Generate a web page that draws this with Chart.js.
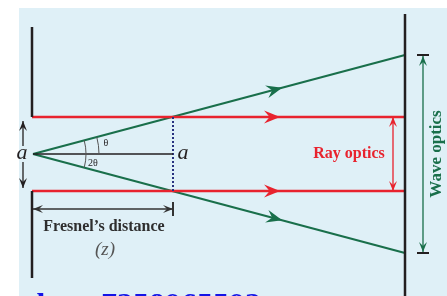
<!DOCTYPE html>
<html lang="en">
<head>
<meta charset="UTF-8">
<title>Fresnel's distance</title>
<script src="https://cdn.jsdelivr.net/npm/chart.js"></script>
<style>
  html, body { margin: 0; padding: 0; background: #fff; overflow: hidden; }
  #wrap { width: 447px; height: 296px; }
</style>
</head>
<body>
<div id="wrap"><canvas id="diagram" width="447" height="296"></canvas></div>
<script>
// diagram units: the slit centre (source) is at (0,0), y goes up
const wallUpper = [{x: -1, y: 127}, {x: -1, y: 37}];
const wallLower = [{x: -1, y: -37}, {x: -1, y: -124}];
const screenLine = [{x: 372, y: 140}, {x: 372, y: -142}];
const rayUpper = [{x: -1, y: 37}, {x: 372, y: 37}];
const rayLower = [{x: -1, y: -37}, {x: 372, y: -37}];
const waveUpper = [{x: 0, y: 0}, {x: 372, y: 99}];
const waveLower = [{x: 0, y: 0}, {x: 372, y: -99}];
const axisLine = [{x: 0, y: 0}, {x: 140, y: 0}];
const fresnelMark = [{x: 140, y: 37}, {x: 140, y: -37}];
const fresnelArrow = [{x: 0, y: -55}, {x: 140, y: -55}];
const fresnelTick = [{x: 140, y: -48}, {x: 140, y: -62}];
const slitArrowUp = [{x: -10, y: 8}, {x: -10, y: 33}];
const slitArrowDown = [{x: -10, y: -8}, {x: -10, y: -34}];
const rayArrow = [{x: 360, y: 37}, {x: 360, y: -37}];
const waveArrow = [{x: 390, y: 98}, {x: 390, y: -98}];
const capTop = [{x: 384, y: 99}, {x: 396, y: 99}];
const capBottom = [{x: 384, y: -99}, {x: 396, y: -99}];

const RED = '#e8232e', GREEN = '#196f4b', INK = '#231f20', NAVY = '#27317f';

function seg(data, color, width, extra) {
  return Object.assign({
    data: data, showLine: true, borderColor: color, borderWidth: width,
    pointRadius: 0, fill: false, borderCapStyle: 'butt'
  }, extra || {});
}

const labels = [
  {text: 'a', x: -11, y: 1, font: 'italic 22px "Liberation Serif"', color: INK},
  {text: 'a', x: 150, y: 1, font: 'italic 22px "Liberation Serif"', color: INK},
  {text: 'θ', x: 73, y: 11, font: '10px "Liberation Serif"', color: INK},
  {text: '2θ', x: 60, y: -9, font: '10px "Liberation Serif"', color: INK},
  {text: 'Ray optics', x: 316, y: 0, font: 'bold 16px "Liberation Serif"', color: RED},
  {text: 'Wave optics', x: 404, y: 0, font: 'bold 17px "Liberation Serif"', color: GREEN, rot: -Math.PI / 2},
  {text: 'Fresnel\u2019s distance', x: 71, y: -73, font: 'bold 16px "Liberation Serif"', color: '#2e2e2e'},
  {text: '(z)', x: 72, y: -96, font: 'italic 19px "Liberation Serif"', color: '#555'},
  {text: 'l', x: 8, y: -153, font: 'bold 32px "Liberation Serif"', color: '#1414e6'},
  {text: '7358965593', x: 148, y: -153, font: 'bold 32px "Liberation Serif"', color: '#1414e6'}
];

function head(ctx, tx, ty, dx, dy, len, wid, notch) {
  const nx = -dy, ny = dx;
  ctx.beginPath();
  ctx.moveTo(tx, ty);
  ctx.lineTo(tx - dx * len + nx * wid, ty - dy * len + ny * wid);
  ctx.lineTo(tx - dx * len * notch, ty - dy * len * notch);
  ctx.lineTo(tx - dx * len - nx * wid, ty - dy * len - ny * wid);
  ctx.closePath();
  ctx.fill();
}

const diagramPlugin = {
  id: 'diagram',
  beforeDraw(chart) {
    const {ctx, scales: {x, y}} = chart;
    ctx.save();
    ctx.fillStyle = '#fff';
    ctx.fillRect(0, 0, chart.width, chart.height);
    ctx.fillStyle = '#dff0f7';
    ctx.fillRect(x.getPixelForValue(-14), y.getPixelForValue(146), chart.width, chart.height);
    ctx.restore();
  },
  afterDatasetsDraw(chart) {
    const {ctx, scales: {x, y}} = chart;
    ctx.save();
    chart.data.datasets.forEach(ds => {
      if (!ds.arrow) return;
      const a = ds.data[0], b = ds.data[ds.data.length - 1];
      const ax = x.getPixelForValue(a.x), ay = y.getPixelForValue(a.y);
      const bx = x.getPixelForValue(b.x), by = y.getPixelForValue(b.y);
      const L = Math.hypot(bx - ax, by - ay);
      const dx = (bx - ax) / L, dy = (by - ay) / L;
      const o = ds.arrow;
      ctx.fillStyle = ds.borderColor;
      if (o.at !== undefined) {
        head(ctx, ax + dx * L * o.at, ay + dy * L * o.at, dx, dy, o.len, o.wid, o.notch);
      }
      if (o.end) head(ctx, bx, by, dx, dy, o.len, o.wid, o.notch);
      if (o.start) head(ctx, ax, ay, -dx, -dy, o.len, o.wid, o.notch);
    });

    // angle arcs at the source
    const cx = x.getPixelForValue(0), cy = y.getPixelForValue(0);
    const ang = Math.atan2(y.getPixelForValue(99) - cy, x.getPixelForValue(372) - cx);
    ctx.strokeStyle = '#555';
    ctx.lineWidth = 1;
    ctx.beginPath();
    ctx.arc(cx, cy, 66, ang, 0);
    ctx.stroke();
    ctx.beginPath();
    ctx.arc(cx, cy, 53, ang, -ang);
    ctx.stroke();

    labels.forEach(l => {
      ctx.save();
      ctx.translate(x.getPixelForValue(l.x), y.getPixelForValue(l.y));
      if (l.rot) ctx.rotate(l.rot);
      ctx.font = l.font;
      ctx.fillStyle = l.color;
      ctx.textAlign = 'center';
      ctx.textBaseline = 'middle';
      ctx.fillText(l.text, 0, 0);
      ctx.restore();
    });
    ctx.restore();
  }
};

new Chart(document.getElementById('diagram'), {
  type: 'scatter',
  data: {
    datasets: [
      seg(wallUpper, INK, 2.5),
      seg(wallLower, INK, 2.5),
      seg(screenLine, INK, 2.5),
      seg(axisLine, INK, 1.5),
      seg(fresnelMark, NAVY, 2, {borderDash: [2, 2]}),
      seg(rayUpper, RED, 2.5, {arrow: {at: 0.665, len: 16, wid: 6.5, notch: 0.65}}),
      seg(rayLower, RED, 2.5, {arrow: {at: 0.665, len: 16, wid: 6.5, notch: 0.65}}),
      seg(waveUpper, GREEN, 2.2, {arrow: {at: 0.67, len: 16, wid: 6.5, notch: 0.65}}),
      seg(waveLower, GREEN, 2.2, {arrow: {at: 0.67, len: 16, wid: 6.5, notch: 0.65}}),
      seg(fresnelArrow, '#333', 1.3, {arrow: {start: true, end: true, len: 10, wid: 4, notch: 0.6}}),
      seg(fresnelTick, '#333', 2),
      seg(slitArrowUp, INK, 1.3, {arrow: {end: true, len: 10, wid: 4, notch: 0.6}}),
      seg(slitArrowDown, INK, 1.3, {arrow: {end: true, len: 10, wid: 4, notch: 0.6}}),
      seg(rayArrow, RED, 1.3, {arrow: {start: true, end: true, len: 10, wid: 4, notch: 0.6}}),
      seg(waveArrow, GREEN, 1.3, {arrow: {start: true, end: true, len: 10, wid: 4, notch: 0.6}}),
      seg(capTop, INK, 2),
      seg(capBottom, INK, 2)
    ]
  },
  options: {
    responsive: false,
    animation: false,
    devicePixelRatio: 1,
    layout: {padding: 0},
    plugins: {legend: {display: false}, tooltip: {enabled: false}},
    scales: {
      x: {type: 'linear', min: -33, max: 414, display: false},
      y: {type: 'linear', min: -142, max: 154, display: false}
    }
  },
  plugins: [diagramPlugin]
});
</script>
</body>
</html>
